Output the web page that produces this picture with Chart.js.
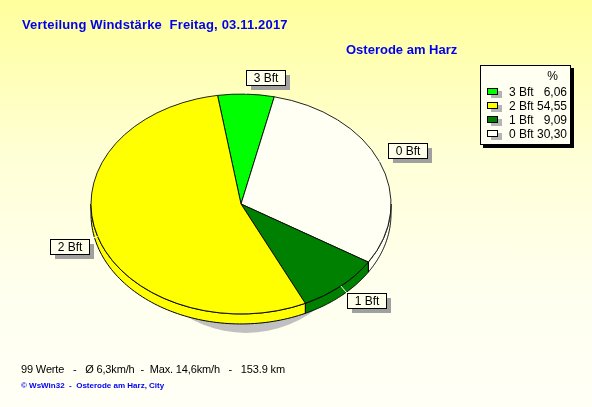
<!DOCTYPE html>
<html><head><meta charset="utf-8">
<script src="https://cdn.jsdelivr.net/npm/chart.js@4/dist/chart.umd.min.js"></script>
<style>
html,body{margin:0;padding:0;}
body{width:592px;height:407px;overflow:hidden;position:relative;
background:linear-gradient(to bottom,#FFFF9C 0%,#FFFFD6 38%,#FFFFEE 70%,#FFFFF6 100%);
font-family:"Liberation Sans",Arial,sans-serif;}
canvas{position:absolute;left:0;top:0;}
.t{position:absolute;white-space:pre;line-height:1;}
#title{left:22px;top:18px;font-weight:bold;font-size:13px;letter-spacing:0.17px;color:#0000F0;}
#sub{left:346px;top:43px;font-weight:bold;font-size:13px;color:#0000F0;}
#legend{position:absolute;left:480px;top:65px;width:89px;height:78px;border:1px solid #000;background:#FFFFF2;box-shadow:3px 3px 0 #000;font-size:12px;color:#000;}
#legend .pct{position:absolute;left:0;width:100%;top:3px;text-align:right;}
#legend .row{position:absolute;left:0;width:89px;height:14px;}
#legend .sw{position:absolute;left:6px;width:9px;height:5px;border:1px solid #000;box-shadow:4px 3px 0 #B4B4B4;}
#legend .nm{position:absolute;left:28px;top:0;white-space:pre;line-height:1;}
#legend .vl{position:absolute;right:3px;top:0;white-space:pre;line-height:1;}
#foot{left:21px;top:364px;font-size:11px;letter-spacing:-0.15px;color:#000;}
#copy{left:21px;top:382px;font-size:8px;font-weight:bold;color:#0000F0;}
</style></head>
<body>
<canvas id="c" width="592" height="407"></canvas>
<div class="t" id="title">Verteilung Windstärke  Freitag, 03.11.2017</div>
<div class="t" id="sub">Osterode am Harz</div>
<div id="legend"><div class="pct"><span style="position:absolute;right:12px;">%</span></div></div>
<div class="t" id="foot">99 Werte   -   Ø 6,3km/h  -  Max. 14,6km/h   -   153.9 km</div>
<div class="t" id="copy">© WsWin32  -  Osterode am Harz, City</div>
<script>
// ---- data ----
const labels = ['3 Bft', '0 Bft', '1 Bft', '2 Bft'];          // clockwise drawing order
const values = [6.06, 30.30, 9.09, 54.55];                    // percent
const colors = ['#00FF00', '#FFFFF4', '#008000', '#FFFF00'];
const legendOrder = ['3 Bft', '2 Bft', '1 Bft', '0 Bft'];

// ---- legend (HTML) ----
const lg = document.getElementById('legend');
legendOrder.forEach((name, r) => {
  const i = labels.indexOf(name);
  const row = document.createElement('div');
  row.className = 'row';
  row.style.top = (20 + r * 14) + 'px';
  row.innerHTML = '<div class="sw" style="top:2px;background:' + colors[i] + '"></div>' +
    '<div class="nm">' + name + '</div>' +
    '<div class="vl">' + values[i].toFixed(2).replace('.', ',') + '</div>';
  lg.appendChild(row);
});

const K = 0.733, DEPTH = 10;
const pie3d = {
  id: 'pie3d',
  beforeDatasetsDraw(chart) {
    const ctx = chart.ctx;
    const meta = chart.getDatasetMeta(0);
    const a0 = meta.data[0];
    const cx = a0.x, cy = a0.y, R = a0.outerRadius;
    ctx.save();
    // drop shadow
    ctx.fillStyle = '#C0C0C0';
    ctx.beginPath();
    ctx.ellipse(cx + 5, cy + 19, R * 0.75, R * K, 0, 0, 2 * Math.PI);
    ctx.fill();
    // side walls
    meta.data.forEach((arc) => {
      const s = Math.max(arc.startAngle, 0), e = Math.min(arc.endAngle, Math.PI);
      if (e <= s) return;
      const N = 80;
      ctx.beginPath();
      for (let j = 0; j <= N; j++) {
        const t = s + (e - s) * j / N;
        const x = cx + R * Math.cos(t), y = cy + R * K * Math.sin(t);
        if (j) ctx.lineTo(x, y); else ctx.moveTo(x, y);
      }
      for (let j = N; j >= 0; j--) {
        const t = s + (e - s) * j / N;
        ctx.lineTo(cx + R * Math.cos(t), cy + R * K * Math.sin(t) + DEPTH);
      }
      ctx.closePath();
      ctx.fillStyle = arc.options.backgroundColor;
      ctx.fill();
      ctx.strokeStyle = '#000';
      ctx.lineWidth = 1;
      ctx.stroke();
    });
    ctx.restore();
    ctx.save();
    ctx.translate(cx, cy);
    ctx.scale(1, K);
    ctx.translate(-cx, -cy);
  },
  afterDatasetsDraw(chart) {
    const ctx = chart.ctx;
    ctx.restore();
    const meta = chart.getDatasetMeta(0);
    const a0 = meta.data[0];
    const cx = a0.x, cy = a0.y, R = a0.outerRadius;
    ctx.save();
    ctx.font = '12px "Liberation Sans", Arial, sans-serif';
    meta.data.forEach((arc, i) => {
      const mid = (arc.startAngle + arc.endAngle) / 2;
      const ux = Math.cos(mid), uy = Math.sin(mid);
      const px = cx + R * ux, py = cy + R * K * uy;
      const ax = Math.round(px + ux * 9), ay = Math.round(py + uy * 9);
      const txt = labels[i];
      const w = Math.round(ctx.measureText(txt).width) + 14, h = 15;
      const bx = ux >= 0 ? ax : ax - w;
      const by = uy < 0 ? ay - h : ay;
      ctx.strokeStyle = '#FFFFFF';
      ctx.lineWidth = 1;
      ctx.beginPath(); ctx.moveTo(px, py); ctx.lineTo(ax, ay); ctx.stroke();
      ctx.fillStyle = '#A0A0A0';
      ctx.fillRect(bx + 5, by + 5, w, h);
      ctx.fillStyle = '#FFFFEC';
      ctx.fillRect(bx, by, w, h);
      ctx.strokeStyle = '#000';
      ctx.strokeRect(bx + 0.5, by + 0.5, w, h);
      ctx.fillStyle = '#000';
      ctx.textAlign = 'center';
      ctx.textBaseline = 'middle';
      ctx.fillText(txt, bx + w / 2 + 0.5, by + h / 2 + 1.5);
    });
    ctx.restore();
  }
};

new Chart(document.getElementById('c'), {
  type: 'pie',
  data: {
    labels: labels,
    datasets: [{
      data: values,
      backgroundColor: colors,
      borderColor: '#000000',
      borderWidth: 1,
      clip: false
    }]
  },
  options: {
    responsive: false,
    devicePixelRatio: 1,
    animation: false,
    events: [],
    radius: 150,
    rotation: -9,
    layout: { padding: { left: 60, right: 170, top: 20, bottom: 19 } },
    plugins: { legend: { display: false }, tooltip: { enabled: false }, title: { display: false } }
  },
  plugins: [pie3d]
});
</script>
</body></html>
